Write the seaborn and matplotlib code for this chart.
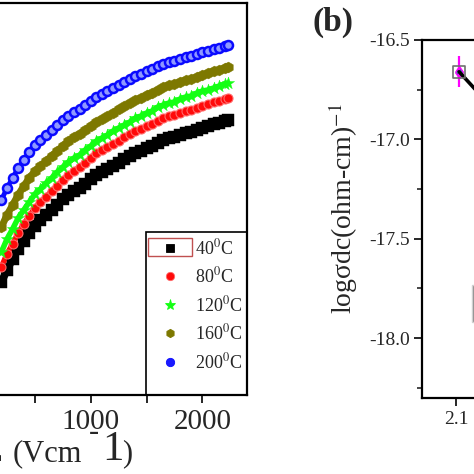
import numpy as np
import pandas as pd
import matplotlib
matplotlib.use("Agg")
import matplotlib.pyplot as plt
import seaborn as sns
from matplotlib.lines import Line2D
from matplotlib.patches import Rectangle
from matplotlib.ticker import MultipleLocator

# ---------------- data (panel a) ----------------
field = [200, 250, 300, 350, 400, 450, 500, 550, 600, 650, 700, 750, 800, 850,
         900, 950, 1000, 1050, 1100, 1150, 1200, 1250, 1300, 1350, 1400, 1450, 1500,
         1550, 1600, 1650, 1700, 1750, 1800, 1850, 1900, 1950, 2000, 2050, 2100,
         2150, 2200, 2230]
j_40 = [1.13, 1.25, 1.36, 1.46, 1.54, 1.62, 1.69, 1.75, 1.80, 1.85, 1.90, 1.96, 2.00, 2.04,
        2.07, 2.11, 2.16, 2.20, 2.23, 2.26, 2.29, 2.32, 2.36, 2.39, 2.42, 2.44, 2.47,
        2.49, 2.52, 2.55, 2.57, 2.58, 2.60, 2.62, 2.63, 2.65, 2.67, 2.69, 2.71,
        2.72, 2.74, 2.75]
j_80 = [1.28, 1.41, 1.51, 1.62, 1.71, 1.79, 1.87, 1.93, 1.98, 2.04, 2.09, 2.15, 2.20, 2.24,
        2.28, 2.32, 2.37, 2.42, 2.45, 2.48, 2.51, 2.54, 2.58, 2.61, 2.64, 2.66, 2.69,
        2.71, 2.74, 2.77, 2.79, 2.80, 2.82, 2.84, 2.85, 2.87, 2.89, 2.91, 2.93,
        2.94, 2.96, 2.97]
j_120 = [1.43, 1.56, 1.66, 1.77, 1.85, 1.93, 2.01, 2.06, 2.12, 2.17, 2.23, 2.28, 2.33, 2.37,
         2.40, 2.45, 2.49, 2.54, 2.57, 2.60, 2.64, 2.67, 2.70, 2.73, 2.77, 2.79, 2.82,
         2.84, 2.88, 2.90, 2.92, 2.93, 2.96, 2.98, 2.99, 3.02, 3.04, 3.05, 3.07,
         3.09, 3.11, 3.12]
j_160 = [1.68, 1.80, 1.90, 2.00, 2.09, 2.17, 2.24, 2.29, 2.34, 2.39, 2.44, 2.49, 2.54, 2.58,
         2.61, 2.65, 2.69, 2.73, 2.76, 2.79, 2.82, 2.86, 2.89, 2.92, 2.95, 2.97, 3.00,
         3.02, 3.05, 3.08, 3.10, 3.11, 3.13, 3.15, 3.16, 3.18, 3.20, 3.22, 3.24,
         3.25, 3.27, 3.28]
j_200 = [1.95, 2.07, 2.17, 2.27, 2.35, 2.43, 2.50, 2.55, 2.60, 2.65, 2.70, 2.75, 2.79, 2.83,
         2.86, 2.90, 2.94, 2.98, 3.01, 3.04, 3.07, 3.10, 3.13, 3.16, 3.19, 3.21, 3.24,
         3.26, 3.29, 3.31, 3.33, 3.34, 3.36, 3.38, 3.39, 3.41, 3.43, 3.44, 3.46,
         3.47, 3.49, 3.50]
temps = ["40", "80", "120", "160", "200"]
series = [j_40, j_80, j_120, j_160, j_200]
x_ticks_a = [1000, 2000]

# ---------------- data (panel b) ----------------
inv_t = [2.106, 2.20, 2.31, 2.43, 2.56]
log_sigma = [-16.66, -16.93, -17.23, -17.55, -17.90]
err_first = [0.078]
y_ticks_b = [-18.0, -17.5, -17.0, -16.5]
x_ticks_b = [2.1, 2.4, 2.7]

sns.set_style("ticks")
plt.rcParams["font.family"] = ["Liberation Serif", "DejaVu Serif"]
plt.rcParams["mathtext.fontset"] = "stix"

W = H = 474
fig = plt.figure(figsize=(4.74, 4.74), dpi=100)


def fr(x0, y0, x1, y1):
    # pixel box (top-left origin) -> figure fraction rect
    return [x0 / W, 1 - y1 / H, (x1 - x0) / W, (y1 - y0) / H]


def fp(x, y):
    return (x / W, 1 - y / H)


# ---------------- panel a ----------------
axa = fig.add_axes(fr(-20.9, 3, 247, 395))
rows = []
for t, vals in zip(temps, series):
    rows.append(pd.DataFrame({"E": field, "J": vals, "T": t}))
df = pd.concat(rows, ignore_index=True)

styles = {
    "40": dict(marker="s", face="black", edge="black", s=64, lw=0.3, band=5.5),
    "80": dict(marker="o", face="#ff0a0a", edge="#ff6a6a", s=42, lw=0.8, band=4.0),
    "120": dict(marker="*", face="#14ff14", edge="#14ff14", s=85, lw=0.3, band=4.0),
    "160": dict(marker="h", face="#7d7800", edge="#7d7800", s=62, lw=0.3, band=5.0),
    "200": dict(marker="o", face="#8f99ff", edge="#0a0aff", s=42, lw=1.8, band=3.5),
}
band_color = {"40": "black", "80": "#ff0a0a", "120": "#14ff14", "160": "#7d7800",
              "200": "#0a0aff"}
for t in temps:
    st = styles[t]
    sub = df[df["T"] == t]
    sns.lineplot(data=sub, x="E", y="J", ax=axa, legend=False, color=band_color[t],
                 linewidth=st["band"], zorder=2)
    sns.scatterplot(data=sub, x="E", y="J", ax=axa, legend=False,
                    marker=st["marker"], color=st["face"], s=st["s"],
                    edgecolor=st["edge"], linewidth=st["lw"], zorder=3)

axa.set_xlim(0, 2400)
axa.set_ylim(0, 3.92)
axa.set_xticks(x_ticks_a)
axa.xaxis.set_minor_locator(MultipleLocator(500))
axa.set_yticks([])
axa.tick_params(axis="x", which="both", direction="out", length=6, width=1.4,
                labelsize=21, pad=4)
for sp in axa.spines.values():
    sp.set_linewidth(1.6)
    sp.set_color("black")
axa.set_ylabel("")
axa.set_xlabel("")

# x-axis title of panel a (superscript drawn large, as in the source)
fig.text(*fp(2, 461), "E", fontsize=22, ha="right", va="baseline")
fig.text(*fp(13, 461), "(Vcm", fontsize=22, ha="left", va="baseline")
fig.text(*fp(89, 440), "-", fontsize=22, ha="left", va="baseline")
fig.text(*fp(102, 460), "1", fontsize=31, ha="left", va="baseline")
fig.text(*fp(122, 461), ")", fontsize=22, ha="left", va="baseline")

# legend
leg_handles = []
for t in temps:
    st = styles[t]
    leg_handles.append(Line2D([], [], linestyle="none", marker=st["marker"],
                              markerfacecolor=st["face"] if t != "200" else "#1a1aff",
                              markeredgecolor=st["edge"],
                              markersize=6 if st["marker"] != "*" else 8,
                              markeredgewidth=0.6))
leg = axa.legend(leg_handles, [f"{t}$^0$C" for t in temps], loc="upper left",
                 bbox_to_anchor=fp(159, 238), bbox_transform=fig.transFigure,
                 frameon=False, fontsize=13, handlelength=1.2, handletextpad=0.78,
                 labelspacing=0.47, borderpad=0, borderaxespad=0)
fig.add_artist(Rectangle(fp(146, 395), 101 / W, 163 / H, transform=fig.transFigure,
                         fill=False, edgecolor="black", linewidth=1.2, zorder=5))
fig.add_artist(Rectangle(fp(147.5, 256), 44 / W, 18 / H, transform=fig.transFigure,
                         fill=False, edgecolor="#c05050", linewidth=1.0, zorder=5))

# ---------------- panel b ----------------
axb = fig.add_axes(fr(422, 40, 900, 398))
sns.lineplot(x=inv_t, y=log_sigma, ax=axb, color="black", linewidth=2.6, zorder=3)
axb.errorbar(inv_t[:1], log_sigma[:1], yerr=err_first, fmt="none", ecolor="#ff00ff",
             elinewidth=1.6, uplims=True, lolims=True, zorder=2)
axb.errorbar(inv_t[:1], log_sigma[:1], yerr=err_first, fmt="none", ecolor="#ff00ff",
             elinewidth=1.6, zorder=2)
sns.scatterplot(x=inv_t[:1], y=log_sigma[:1], ax=axb, marker="s", s=80,
                facecolor="none", edgecolor="#707070", linewidth=1.2, zorder=4)
axb.set_xlim(2.035, 2.949)
axb.set_ylim(-18.302, -16.5)
axb.set_yticks(y_ticks_b)
axb.set_yticklabels([f"{v:.1f}" for v in y_ticks_b])
axb.yaxis.set_minor_locator(MultipleLocator(0.25))
axb.set_xticks(x_ticks_b)
axb.tick_params(axis="both", which="major", direction="out", length=6, width=1.4,
                labelsize=14, pad=3)
axb.tick_params(axis="y", which="minor", direction="out", length=3.5, width=1.2)
for sp in axb.spines.values():
    sp.set_linewidth(1.6)
    sp.set_color("black")
axb.set_ylabel("log\u03c3dc(ohm-cm)$^{-1}$", fontsize=20)
axb.yaxis.set_label_coords(-(422 - 360) / 478, (398 - 209) / 358)
axb.set_xlabel("")
fig.add_artist(Rectangle(fp(472, 322), 20 / W, 37 / H, transform=fig.transFigure,
                         facecolor="#8a8a8a", edgecolor="#d0d0d0", linewidth=1.0, zorder=5))

fig.text(*fp(312, 22), "(b)", fontsize=24, fontweight="bold", va="center", ha="left")

fig.savefig("out.png", dpi=100)
